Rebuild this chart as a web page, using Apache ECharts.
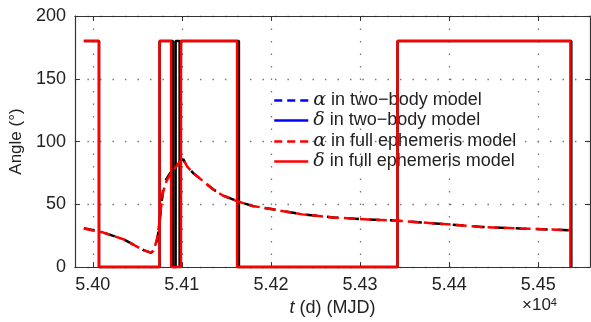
<!DOCTYPE html>
<html><head><meta charset="utf-8">
<script src="https://cdn.jsdelivr.net/npm/echarts@6/dist/echarts.min.js"></script>
<style>html,body{margin:0;padding:0;background:#fff}#c{width:591px;height:322px}</style>
</head><body><div id="c"></div>
<script>
const xTickValues = [54000, 54100, 54200, 54300, 54400, 54500];
const alphaT = [53990,54012,54035,54057,54065,54068,54070,54072.5,54074.7,54077,54079,54082.5,54087,54092.5,54098,54101.5,54106,54112.6,54123.7,54135,54146,54164,54179.5,54202,54235,54272,54309,54342,54380,54436,54480.5,54536];
const alphaFull = [30.7,27.5,22,13.5,11.5,13,17,24,35,50,60,68,74,79,84,86,80,75,68.5,62,57,52,48.7,46,42,39.4,38,37,35,32,30.7,29.4];
const alphaTwoBody = [31,27.5,22,13.5,11.5,12.5,16,22,33,50,62,70,75,79,84,86,80,75,68.5,62,57,52,48.7,46,42,39.4,38,37,35,32,30.7,29.4];
const deltaFullT = [53990,54007,54007,54075,54075,54088,54088,54099,54099,54162,54162,54342,54342,54536,54536];
const deltaFullV = [180,180,0,0,180,180,0,0,180,180,0,0,180,180,0];
const deltaTwoT = [53990,54007,54007,54075,54075,54090,54090,54093,54093,54097.5,54097.5,54099,54099,54164,54164,54342,54342,54537,54537];
const deltaTwoV = [180,180,0,0,180,180,0,0,180,180,0,0,180,180,0,0,180,180,0];
const seriesNames = ['α in two−body model','δ in two−body model','α in full ephemeris model','δ in full ephemeris model'];

const zip = (a, b) => a.map((v, i) => [v, b[i]]);
const FONT = 'Liberation Sans, Arial, sans-serif';
const TXT = '#222';
const chart = echarts.init(document.getElementById('c'), null, {renderer: 'canvas'});

const legendStyles = [
  {color: '#0000ff', type: [8, 5]},
  {color: '#0000ff', type: 'solid'},
  {color: '#ff0000', type: [8, 5]},
  {color: '#ff0000', type: 'solid'}
];
const legendTops = [91, 111, 132, 152];
const legends = seriesNames.map((n, i) => ({
  orient: 'vertical', left: 273, top: legendTops[i], padding: 0,
  itemWidth: 34, itemHeight: 14, itemGap: 0,
  data: [{name: n, lineStyle: {color: legendStyles[i].color, type: legendStyles[i].type, width: 2.5},
          itemStyle: {color: legendStyles[i].color, opacity: 0, borderWidth: 0}}],
  formatter: nm => '{g|' + nm[0] + '}' + nm.slice(1),
  textStyle: {fontSize: 18, color: TXT, fontFamily: FONT,
    rich: {g: {fontSize: 19, fontStyle: 'italic', fontFamily: 'DejaVu Serif, serif', color: TXT}}},
  selectedMode: false
}));

const option = {
  animation: false,
  backgroundColor: '#fff',
  grid: {left: 71, top: 16, right: 1, bottom: 54, show: false},
  legend: legends,
  xAxis: [{
    type: 'value', position: 'bottom', min: 53980, max: 54558,
    axisLine: {show: true, onZero: false, lineStyle: {color: '#333', width: 1.2}},
    axisTick: {show: true, inside: true, length: 5, customValues: xTickValues, lineStyle: {color: '#333'}},
    axisLabel: {show: true, customValues: xTickValues, formatter: v => (v / 1e4).toFixed(2), fontSize: 18, color: TXT, fontFamily: FONT, margin: 9},
    splitLine: {show: true, lineStyle: {color: '#777', type: [1.5, 11], width: 1.3}},
    name: '{i|t} (d) (MJD)', nameLocation: 'middle', nameGap: 31,
    nameTextStyle: {fontSize: 18, color: TXT, fontFamily: FONT, rich: {i: {fontStyle: 'italic', fontSize: 18, color: TXT, fontFamily: FONT}}}
  }, {
    type: 'value', position: 'top', min: 53980, max: 54558,
    axisLine: {show: true, onZero: false, lineStyle: {color: '#333', width: 1.2}},
    axisTick: {show: true, inside: true, length: 5, customValues: xTickValues, lineStyle: {color: '#333'}},
    axisLabel: {show: false}, splitLine: {show: false}
  }],
  yAxis: [{
    type: 'value', position: 'left', min: 0, max: 200, interval: 50,
    axisLine: {show: true, onZero: false, lineStyle: {color: '#333', width: 1.2}},
    axisTick: {show: true, inside: true, length: 5, lineStyle: {color: '#333'}},
    axisLabel: {fontSize: 18, color: TXT, fontFamily: FONT, margin: 9},
    splitLine: {show: true, lineStyle: {color: '#777', type: [1.5, 11], width: 1.3}},
    name: 'Angle (°)', nameLocation: 'middle', nameGap: 48,
    nameTextStyle: {fontSize: 17, color: TXT, fontFamily: FONT}
  }, {
    type: 'value', position: 'right', min: 0, max: 200, interval: 50,
    axisLine: {show: true, onZero: false, lineStyle: {color: '#333', width: 1.2}},
    axisTick: {show: true, inside: true, length: 5, lineStyle: {color: '#333'}},
    axisLabel: {show: false}, splitLine: {show: false}
  }],
  graphic: [{
    type: 'text', left: 522, top: 297,
    style: {text: '×10{s|4}', fontSize: 17, fill: TXT, fontFamily: FONT,
      rich: {s: {fontSize: 11, verticalAlign: 'top', fill: TXT, fontFamily: FONT}}}
  }],
  series: [
    {name: seriesNames[1], type: 'line', data: zip(deltaTwoT, deltaTwoV), symbol: 'none', clip: false,
      itemStyle: {color: '#0000ff'}, lineStyle: {color: '#000', width: 2.5}, z: 2},
    {name: seriesNames[0], type: 'line', data: zip(alphaT, alphaTwoBody), symbol: 'none', clip: false,
      itemStyle: {color: '#0000ff'}, lineStyle: {color: '#000', width: 2.5, type: [11, 10]}, z: 3},
    {name: seriesNames[2], type: 'line', data: zip(alphaT, alphaFull), symbol: 'none', clip: false,
      itemStyle: {color: '#ff0000'}, lineStyle: {color: '#ff0000', width: 2.5, type: [11, 5]}, z: 4},
    {name: seriesNames[3], type: 'line', data: zip(deltaFullT, deltaFullV), symbol: 'none', clip: false,
      itemStyle: {color: '#ff0000'}, lineStyle: {color: '#ff0000', width: 2.5}, z: 5}
  ]
};
chart.setOption(option);
</script></body></html>
